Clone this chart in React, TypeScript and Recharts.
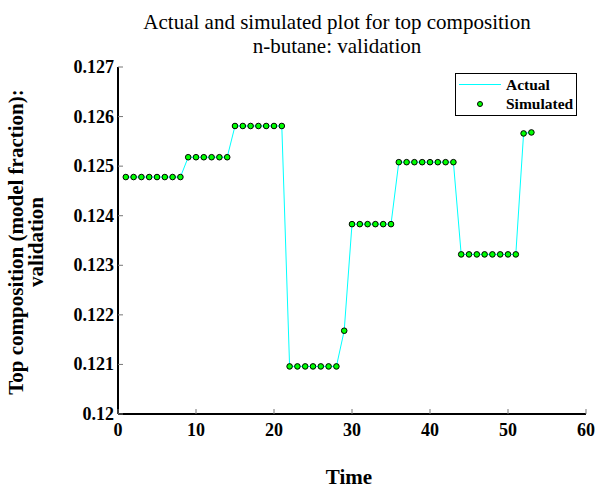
import React from 'react';
import { LineChart, Line, XAxis, YAxis } from 'recharts';

const time = [
  1, 2, 3, 4, 5, 6, 7, 8, 9, 10, 11, 12, 13, 14, 15, 16, 17, 18, 19, 20, 21, 22, 23, 24, 25, 26, 27,
  28, 29, 30, 31, 32, 33, 34, 35, 36, 37, 38, 39, 40, 41, 42, 43, 44, 45, 46, 47, 48, 49, 50, 51, 52, 53,
];

const actual = [
  0.12478, 0.12478, 0.12478, 0.12478, 0.12478, 0.12478, 0.12478, 0.12478,
  0.12518, 0.12518, 0.12518, 0.12518, 0.12518, 0.12518,
  0.12581, 0.12581, 0.12581, 0.12581, 0.12581, 0.12581, 0.12581,
  0.12096, 0.12096, 0.12096, 0.12096, 0.12096, 0.12096, 0.12096,
  0.12168,
  0.12383, 0.12383, 0.12383, 0.12383, 0.12383, 0.12383,
  0.12508, 0.12508, 0.12508, 0.12508, 0.12508, 0.12508, 0.12508, 0.12508,
  0.12322, 0.12322, 0.12322, 0.12322, 0.12322, 0.12322, 0.12322, 0.12322,
  0.12566, 0.12568,
];

const simulated = [...actual];

const xTicks = [0, 10, 20, 30, 40, 50, 60];
const yTicks = [0.12, 0.121, 0.122, 0.123, 0.124, 0.125, 0.126, 0.127];
const yLabels = ['0.12', '0.121', '0.122', '0.123', '0.124', '0.125', '0.126', '0.127'];

const data = time.map((t, i) => ({ t, actual: actual[i], simulated: simulated[i] }));

const font = '"Liberation Serif", "Times New Roman", serif';
const tickColor = '#777';

const BottomTick = (props: any) => {
  const { x, y, payload } = props;
  return (
    <g>
      <line x1={x} y1={y} x2={x} y2={y - 5} stroke={tickColor} strokeWidth={1} />
      <text x={x} y={y + 22} textAnchor="middle" fontFamily={font} fontWeight="bold" fontSize={18} fill="#000">
        {payload.value}
      </text>
    </g>
  );
};

const TopTick = (props: any) => {
  const { x, y } = props;
  return <line x1={x} y1={y} x2={x} y2={y + 5} stroke={tickColor} strokeWidth={1} />;
};

const LeftTick = (props: any) => {
  const { x, y, payload, index } = props;
  return (
    <g>
      <line x1={x} y1={y} x2={x + 5} y2={y} stroke={tickColor} strokeWidth={1} />
      <text x={x - 4} y={y + 6} textAnchor="end" fontFamily={font} fontWeight="bold" fontSize={18} fill="#000">
        {yLabels[yTicks.indexOf(payload.value)] ?? yLabels[index]}
      </text>
    </g>
  );
};

const RightTick = (props: any) => {
  const { x, y } = props;
  return <line x1={x} y1={y} x2={x - 5} y2={y} stroke={tickColor} strokeWidth={1} />;
};

const Marker = (props: any) => {
  const { cx, cy, index } = props;
  if (cx == null || cy == null) return <g key={index} />;
  return <circle key={index} cx={cx} cy={cy} r={2.8} fill="#00ff00" stroke="#000" strokeWidth={1} />;
};

export default function App() {
  return (
    <div style={{ position: 'absolute', left: 0, top: 0, width: 596, height: 488, background: '#fff', fontFamily: font, overflow: 'hidden' }}>
      <LineChart width={596} height={488} data={data} margin={{ top: 67, right: 10, left: 8, bottom: 44 }}>
        <XAxis
          dataKey="t"
          type="number"
          domain={[0, 60]}
          ticks={xTicks}
          height={30}
          tickSize={0}
          tickMargin={0}
          tickLine={false}
          axisLine={{ stroke: '#000', strokeWidth: 2 }}
          tick={<BottomTick />}
          interval={0}
        />
        <XAxis
          xAxisId="top"
          orientation="top"
          dataKey="t"
          type="number"
          domain={[0, 60]}
          ticks={xTicks}
          height={0}
          tickSize={0}
          tickMargin={0}
          tickLine={false}
          axisLine={{ stroke: '#000', strokeWidth: 2 }}
          tick={<TopTick />}
          interval={0}
        />
        <YAxis
          type="number"
          domain={[0.12, 0.127]}
          ticks={yTicks}
          width={110}
          tickSize={0}
          tickMargin={0}
          tickLine={false}
          axisLine={{ stroke: '#000', strokeWidth: 2 }}
          tick={<LeftTick />}
          interval={0}
          allowDataOverflow
        />
        <YAxis
          yAxisId="right"
          orientation="right"
          type="number"
          domain={[0.12, 0.127]}
          ticks={yTicks}
          width={0}
          tickSize={0}
          tickMargin={0}
          tickLine={false}
          axisLine={{ stroke: '#000', strokeWidth: 2 }}
          tick={<RightTick />}
          interval={0}
          allowDataOverflow
        />
        <Line
          dataKey="actual"
          stroke="#00ffff"
          strokeWidth={1}
          dot={false}
          activeDot={false}
          isAnimationActive={false}
        />
        <Line
          dataKey="simulated"
          stroke="none"
          dot={<Marker />}
          activeDot={false}
          isAnimationActive={false}
        />
      </LineChart>

      <div style={{ position: 'absolute', left: 0, width: 674, top: 10, textAlign: 'center', fontSize: 21, lineHeight: '24px', color: '#000', whiteSpace: 'nowrap' }}>
        Actual and simulated plot for top composition
        <br />
        n-butane: validation
      </div>

      <div style={{ position: 'absolute', left: 0, width: 698, top: 469, height: 16, textAlign: 'center', fontSize: 21, lineHeight: '16px', fontWeight: 'bold', color: '#000' }}>
        Time
      </div>

      <div
        style={{
          position: 'absolute',
          left: 26,
          top: 242,
          width: 420,
          transform: 'translate(-50%, -50%) rotate(-90deg)',
          textAlign: 'center',
          fontSize: 21,
          fontWeight: 'bold',
          lineHeight: '20px',
          color: '#000',
          whiteSpace: 'nowrap',
        }}
      >
        Top composition (model fraction):
        <br />
        validation
      </div>

      <div
        style={{
          position: 'absolute',
          left: 455,
          top: 73,
          width: 120,
          height: 41,
          border: '1px solid #000',
          background: '#fff',
          fontSize: 15.5,
          fontWeight: 'bold',
          color: '#000',
        }}
      >
        <div style={{ position: 'absolute', left: 3, top: 10, width: 42, height: 1, background: '#00ffff' }} />
        <div style={{ position: 'absolute', left: 50, top: 2, lineHeight: '18px' }}>Actual</div>
        <div
          style={{
            position: 'absolute',
            left: 21,
            top: 27,
            width: 4,
            height: 4,
            borderRadius: '50%',
            background: '#00ff00',
            border: '1px solid #000',
          }}
        />
        <div style={{ position: 'absolute', left: 50, top: 21, lineHeight: '18px' }}>Simulated</div>
      </div>
    </div>
  );
}
